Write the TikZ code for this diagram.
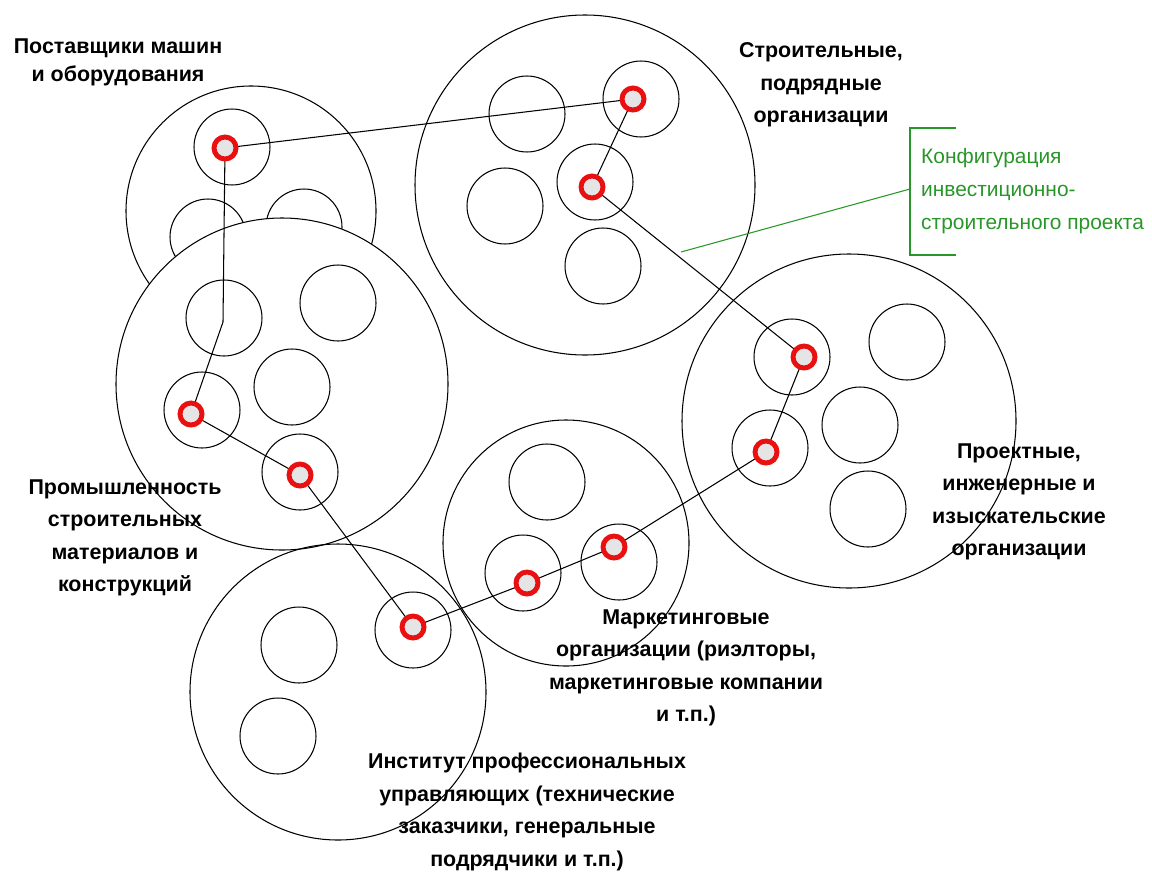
\documentclass[tikz,border=0pt]{standalone}
\usepackage{fontspec}
\setmainfont{Liberation Sans}
\usetikzlibrary{positioning}
\pgfdeclarelayer{back}
\pgfdeclarelayer{links}
\pgfsetlayers{back,links,main}
\definecolor{ringred}{RGB}{232,16,16}
\definecolor{notegreen}{RGB}{40,150,40}

\begin{document}
\begin{tikzpicture}[
    %	style def
    x=0.02cm, y=-0.02cm,
    bigring/.style={circle, draw, line width=0.6pt, inner sep=0pt, minimum size=2*#1*0.02cm},
    firm/.style={circle, draw, line width=0.6pt, inner sep=0pt, minimum size=1.52cm},
    hub/.style={circle, draw=ringred, line width=2.8pt, fill=gray!20, inner sep=0pt, minimum size=0.44cm},
    link/.style={line width=0.6pt},
    bracket/.style={draw=notegreen, line width=0.6pt},
    caption/.style={align=center, font=\bfseries\fontsize{12.2}{18.5}\selectfont},
    note/.style={align=left, text=notegreen, font=\fontsize{11.9}{19}\selectfont}
    ]
    \useasboundingbox (0,0) rectangle (1152,872);

    \begin{pgfonlayer}{back}
    % suppliers, half hidden by the industry circle
    \node[bigring=125] (A) at (251,211) {};
    \node[firm] (a1) at (232,147) {};
    \node[firm] (a2) at (208,237) {};
    \node[firm] (a3) at (304,227) {};
    % industry of building materials
    \node[bigring=166, fill=white] (B) at (282,384) {};
    \node[firm] (b1) at (224,318) {};
    \node[firm] (b2) at (338,303) {};
    \node[firm] (b3) at (292,387) {};
    \node[firm] (b4) at (202,410) {};
    \node[firm] (b5) at (300,472) {};
    % building contractors
    \node[bigring=170] (C) at (585,185) {};
    \node[firm] (c1) at (527,114) {};
    \node[firm] (c2) at (641,99) {};
    \node[firm] (c3) at (595,182) {};
    \node[firm] (c4) at (505,206) {};
    \node[firm] (c5) at (603,266) {};
    % professional managers
    \node[bigring=148] (D) at (338,692) {};
    \node[firm] (d1) at (299,645) {};
    \node[firm] (d2) at (278,736) {};
    \node[firm] (d3) at (413,630) {};
    % marketing
    \node[bigring=123] (E) at (566,543) {};
    \node[firm] (e1) at (547,482) {};
    \node[firm] (e2) at (523,573) {};
    \node[firm] (e3) at (619,562) {};
    % design and survey
    \node[bigring=167] (F) at (849,421) {};
    \node[firm] (f1) at (792,357) {};
    \node[firm] (f2) at (907,342) {};
    \node[firm] (f3) at (860,425) {};
    \node[firm] (f4) at (770,448) {};
    \node[firm] (f5) at (868,509) {};
    \end{pgfonlayer}

    % project participants
    \node[hub] (hA) at (225,148) {};
    \node[hub] (hB1) at (191,414) {};
    \node[hub] (hB2) at (300,475) {};
    \node[hub] (hC1) at (633,99) {};
    \node[hub] (hC2) at (592,187) {};
    \node[hub] (hD) at (413,627) {};
    \node[hub] (hE1) at (527,583) {};
    \node[hub] (hE2) at (614,547) {};
    \node[hub] (hF1) at (804,357) {};
    \node[hub] (hF2) at (766,452) {};
    \coordinate (bend) at (223,322);

    \begin{pgfonlayer}{links}
    \draw[link] (hA.center) -- (hC1.center) -- (hC2.center) -- (hF1.center) -- (hF2.center)
        -- (hE2.center) -- (hE1.center) -- (hD.center) -- (hB2.center) -- (hB1.center)
        -- (bend) -- (hA.center);
    \end{pgfonlayer}

    % labels
    \node[caption, font=\bfseries\fontsize{12.2}{16}\selectfont] (tA) at (118,62) {Поставщики машин\\и оборудования};
    \node[caption] (tC) at (821,85) {Строительные,\\подрядные\\организации};
    \node[caption] (tB) at (125,538) {Промышленность\\строительных\\материалов и\\конструкций};
    \node[caption] (tE) at (686,668) {Маркетинговые\\организации (риэлторы,\\маркетинговые компании\\и т.п.)};
    \node[caption] (tD) at (527,812) {Институт профессиональных\\управляющих (технические\\заказчики, генеральные\\подрядчики и т.п.)};
    \node[caption] (tF) at (1019,502) {Проектные,\\инженерные и\\изыскательские\\организации};

    % configuration note
    \node[note, anchor=west] (cfg) at (915,191) {Конфигурация\\инвестиционно-\\строительного проекта};
    \coordinate (brmid) at (910,189);
    \coordinate (tip) at (681,252);
    \draw[bracket] (956,128) -- (910,128) -- (910,255) -- (956,255);
    \draw[bracket] (brmid) -- (tip);
\end{tikzpicture}
\end{document}
